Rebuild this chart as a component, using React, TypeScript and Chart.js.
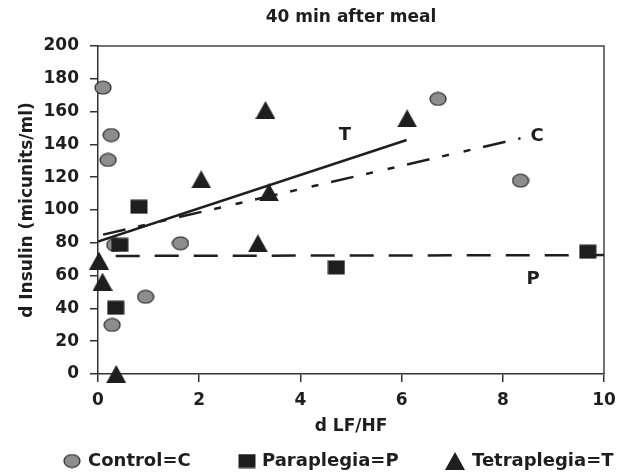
import React, { useEffect, useRef } from 'react';
import { Chart, registerables } from 'chart.js';

Chart.register(...registerables);

// ---- data ----
const controlX = [0.1, 0.26, 0.2, 0.33, 1.63, 0.94, 0.28, 6.72, 8.35];
const controlY = [174.6, 145.7, 130.5, 78.7, 79.7, 47.1, 29.9, 167.7, 117.9];
const paraX = [0.81, 0.43, 0.35, 4.71, 9.68];
const paraY = [102, 78.7, 40.4, 65, 74.6];
const tetraX = [3.31, 2.04, 3.38, 6.11, 3.16, 0.02, 0.09, 0.36];
const tetraY = [161, 118.7, 110.8, 155.9, 79.7, 69.1, 56.3, 0];

const trendTX = [0, 6.1];
const trendTY = [80.7, 142.7];
const trendCX = [0.1, 8.35];
const trendCY = [85, 143.7];
const trendPX = [0.35, 10];
const trendPY = [72, 72.5];

const lineLabelText = ['T', 'C', 'P'];
const lineLabelX = [4.88, 8.68, 8.6];
const lineLabelY = [145.7, 145.1, 57.6];

const legendLabels = ['Control=C', 'Paraplegia=P', 'Tetraplegia=T'];
const titleText = '40 min after meal';
const xTitle = 'd LF/HF';
const yTitle = 'd Insulin (micunits/ml)';

const FONT = '"DejaVu Sans", sans-serif';
const INK = '#1e1e1e';

function makeMarker(kind: string): HTMLCanvasElement {
  const c = document.createElement('canvas');
  const w = kind === 'triangle' ? 20 : 18;
  const h = kind === 'triangle' ? 18 : 15;
  c.width = w;
  c.height = h;
  const ctx = c.getContext('2d')!;
  if (kind === 'circle') {
    ctx.beginPath();
    ctx.ellipse(w / 2, h / 2, w / 2 - 1, h / 2 - 1, 0, 0, Math.PI * 2);
    ctx.fillStyle = '#8d8d8d';
    ctx.fill();
    ctx.lineWidth = 1.2;
    ctx.strokeStyle = '#222';
    ctx.stroke();
  } else if (kind === 'square') {
    ctx.fillStyle = INK;
    ctx.fillRect(0.5, 0.5, w - 1, h - 1);
  } else {
    ctx.beginPath();
    ctx.moveTo(w / 2, 0);
    ctx.lineTo(w, h);
    ctx.lineTo(0, h);
    ctx.closePath();
    ctx.fillStyle = INK;
    ctx.fill();
  }
  return c;
}

const toPts = (xs: number[], ys: number[]) => xs.map((x, i) => ({ x, y: ys[i] }));

export default function App() {
  const ref = useRef<HTMLCanvasElement | null>(null);

  useEffect(() => {
    if (!ref.current) return;
    const markers = [makeMarker('circle'), makeMarker('square'), makeMarker('triangle')];

    const framePlugin = {
      id: 'frame',
      beforeDatasetsDraw(chart: any) {
        const { ctx, chartArea: a } = chart;
        ctx.save();
        ctx.strokeStyle = '#444';
        ctx.lineWidth = 1.5;
        ctx.beginPath();
        ctx.moveTo(a.left, a.top);
        ctx.lineTo(a.right, a.top);
        ctx.lineTo(a.right, a.bottom);
        ctx.stroke();
        ctx.restore();
      },
    };

    const labelsPlugin = {
      id: 'lineLabels',
      afterDatasetsDraw(chart: any) {
        const { ctx, scales } = chart;
        ctx.save();
        ctx.font = `bold 18px ${FONT}`;
        ctx.fillStyle = INK;
        ctx.textAlign = 'center';
        ctx.textBaseline = 'middle';
        lineLabelText.forEach((t, i) => {
          ctx.fillText(t, scales.x.getPixelForValue(lineLabelX[i]), scales.y.getPixelForValue(lineLabelY[i]));
        });
        ctx.restore();
      },
    };

    const legendPlugin = {
      id: 'bottomLegend',
      afterDraw(chart: any) {
        const { ctx } = chart;
        const cy = 461;
        const markerCx = [72, 247, 455];
        const textX = [88, 262, 472];
        ctx.save();
        ctx.font = `bold 18px ${FONT}`;
        ctx.fillStyle = INK;
        ctx.textAlign = 'left';
        ctx.textBaseline = 'middle';
        legendLabels.forEach((t, i) => {
          const m = markers[i];
          ctx.drawImage(m, markerCx[i] - m.width / 2, cy - m.height / 2);
          ctx.fillText(t, textX[i], cy);
        });
        ctx.restore();
      },
    };

    const chart = new Chart(ref.current, {
      type: 'scatter',
      data: {
        datasets: [
          { label: legendLabels[0], data: toPts(controlX, controlY), pointStyle: markers[0] as any, pointRadius: 8, clip: false, order: 3 },
          { label: legendLabels[1], data: toPts(paraX, paraY), pointStyle: markers[1] as any, pointRadius: 8, clip: false, order: 2 },
          { label: legendLabels[2], data: toPts(tetraX, tetraY), pointStyle: markers[2] as any, pointRadius: 9, clip: false, order: 1 },
          {
            label: 'T fit', data: toPts(trendTX, trendTY), showLine: true, pointRadius: 0,
            borderColor: INK, borderWidth: 2.5, order: 10,
          },
          {
            label: 'C fit', data: toPts(trendCX, trendCY), showLine: true, pointRadius: 0,
            borderColor: INK, borderWidth: 2.5, borderDash: [23, 13, 7, 15, 7, 13], order: 10,
          },
          {
            label: 'P fit', data: toPts(trendPX, trendPY), showLine: true, pointRadius: 0,
            borderColor: INK, borderWidth: 2.5, borderDash: [24, 15], order: 10,
          },
        ] as any,
      },
      options: {
        responsive: false,
        animation: false,
        events: [],
        layout: { padding: { left: 0, right: 22, top: 0, bottom: 37.8 } },
        plugins: {
          legend: { display: false },
          tooltip: { enabled: false },
          title: {
            display: true,
            text: titleText,
            fullSize: false,
            color: INK,
            font: { family: FONT, size: 17, weight: 'bold' },
            padding: { top: 7, bottom: 18.6 },
          },
        },
        scales: {
          x: {
            type: 'linear',
            min: 0,
            max: 10,
            afterFit: (s: any) => { s.height = 63.2; },
            ticks: {
              stepSize: 2,
              padding: 8,
              color: INK,
              font: { family: FONT, size: 17, weight: 'bold' },
            },
            grid: { drawOnChartArea: false, tickLength: 8, color: '#333', lineWidth: 1.5 },
            border: { color: '#333', width: 1.5 },
            title: {
              display: true,
              text: xTitle,
              color: INK,
              font: { family: FONT, size: 17, weight: 'bold' },
              padding: { top: 0, bottom: 0 },
            },
          },
          y: {
            type: 'linear',
            min: 0,
            max: 200,
            afterFit: (s: any) => { s.width = 98; },
            ticks: {
              stepSize: 20,
              padding: 11,
              color: INK,
              font: { family: FONT, size: 17, weight: 'bold' },
            },
            grid: { drawOnChartArea: false, tickLength: 8, color: '#333', lineWidth: 1.5 },
            border: { color: '#333', width: 1.5 },
            title: {
              display: true,
              text: yTitle,
              color: INK,
              font: { family: FONT, size: 17, weight: 'bold' },
              padding: { top: 17, bottom: 0 },
            },
          },
        },
      } as any,
      plugins: [framePlugin, labelsPlugin, legendPlugin],
    });
    return () => chart.destroy();
  }, []);

  return (
    <div style={{ position: 'fixed', left: 0, top: 0, width: 626, height: 475, background: '#fff' }}>
      <canvas ref={ref} width={626} height={475} style={{ display: 'block' }} />
    </div>
  );
}
